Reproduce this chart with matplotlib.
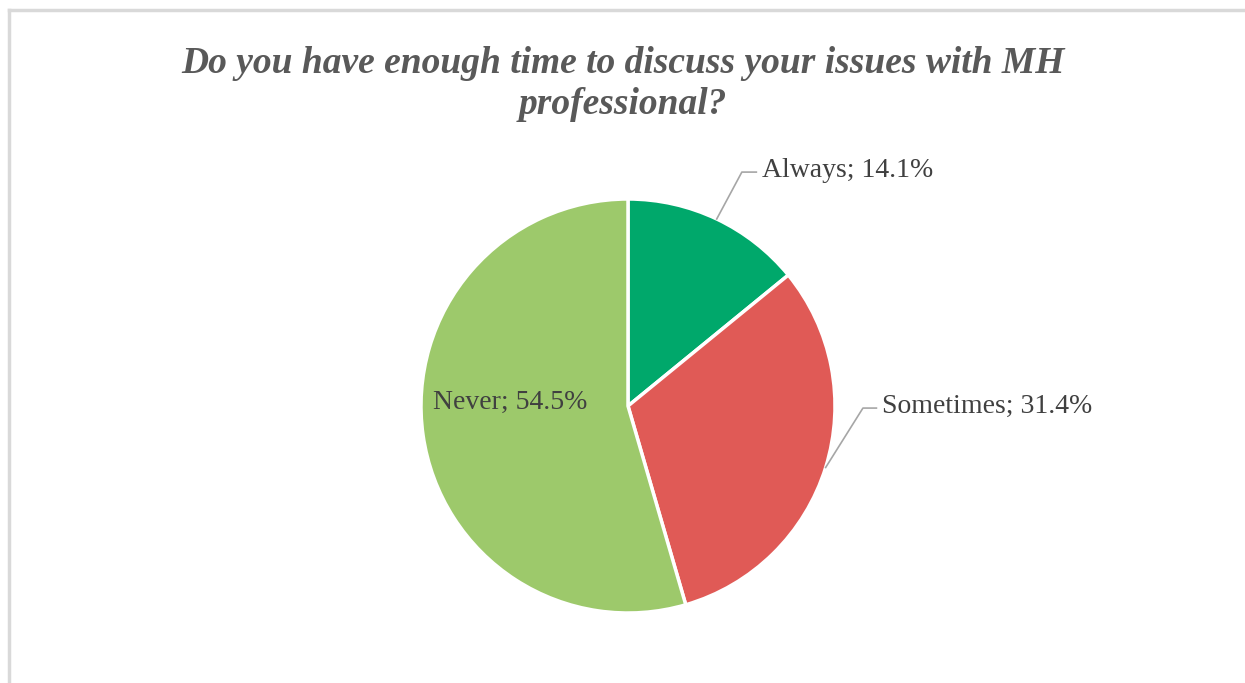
""" Pie chart: time to discuss issues with MH professional """

import numpy as np
import matplotlib
matplotlib.use("Agg")
import matplotlib.pyplot as plt
from matplotlib.lines import Line2D

categories = ["Always", "Sometimes", "Never"]
shares = [14.1, 31.4, 54.5]
colors = ["#00A86B", "#E05A56", "#9DC96B"]

TITLE = "Do you have enough time to discuss your issues with MH\nprofessional?"


def main():
    fig = plt.figure(figsize=(12.45, 6.83), dpi=100)
    W, H = 1245, 683

    # chart frame (left and top edges visible)
    fig.add_artist(Line2D([9 / W, 9 / W], [0, 1 - 10 / H], transform=fig.transFigure,
                          color="#d9d9d9", lw=2.5))
    fig.add_artist(Line2D([9 / W, 1], [1 - 10 / H, 1 - 10 / H], transform=fig.transFigure,
                          color="#d9d9d9", lw=2.5))

    cx, cy, r = 628, 406, 207
    ax = fig.add_axes([(cx - r) / W, (H - cy - r) / H, 2 * r / W, 2 * r / H])
    wedges, _ = ax.pie(shares, colors=colors, startangle=90, counterclock=False,
                       radius=1, wedgeprops=dict(edgecolor="white", linewidth=2.5))
    ax.set_xlim(-1, 1)
    ax.set_ylim(-1, 1)
    ax.set_aspect("equal")
    ax.axis("off")

    labels = [f"{c}; {v:.1f}%" for c, v in zip(categories, shares)]
    font = dict(family="Liberation Serif", size=20, color="#404040")

    # leader-lined labels for Always and Sometimes
    elbows = [(0.55, 1.13, 0.62), (1.135, -0.01, 1.20)]
    for w, lab, (ex, ey, hx) in zip(wedges[:2], labels[:2], elbows):
        mid = np.deg2rad((w.theta1 + w.theta2) / 2)
        sx, sy = np.cos(mid), np.sin(mid)
        ax.plot([sx, ex, hx], [sy, ey, ey], color="#a6a6a6", lw=1.2, clip_on=False)
        ax.text(hx + 0.025, ey + 0.01, lab, ha="left", va="center", **font)

    # Never label inside the slice
    ax.text(-0.57, 0.015, labels[2], ha="center", va="center", **font)

    fig.text(0.5, 1 - 84 / H, TITLE, ha="center", va="center", fontsize=27,
             family="Liberation Serif", weight="bold", style="italic",
             color="#595959", linespacing=1.25)

    fig.savefig("out.png", dpi=100, facecolor="white")


if __name__ == "__main__":
    main()
